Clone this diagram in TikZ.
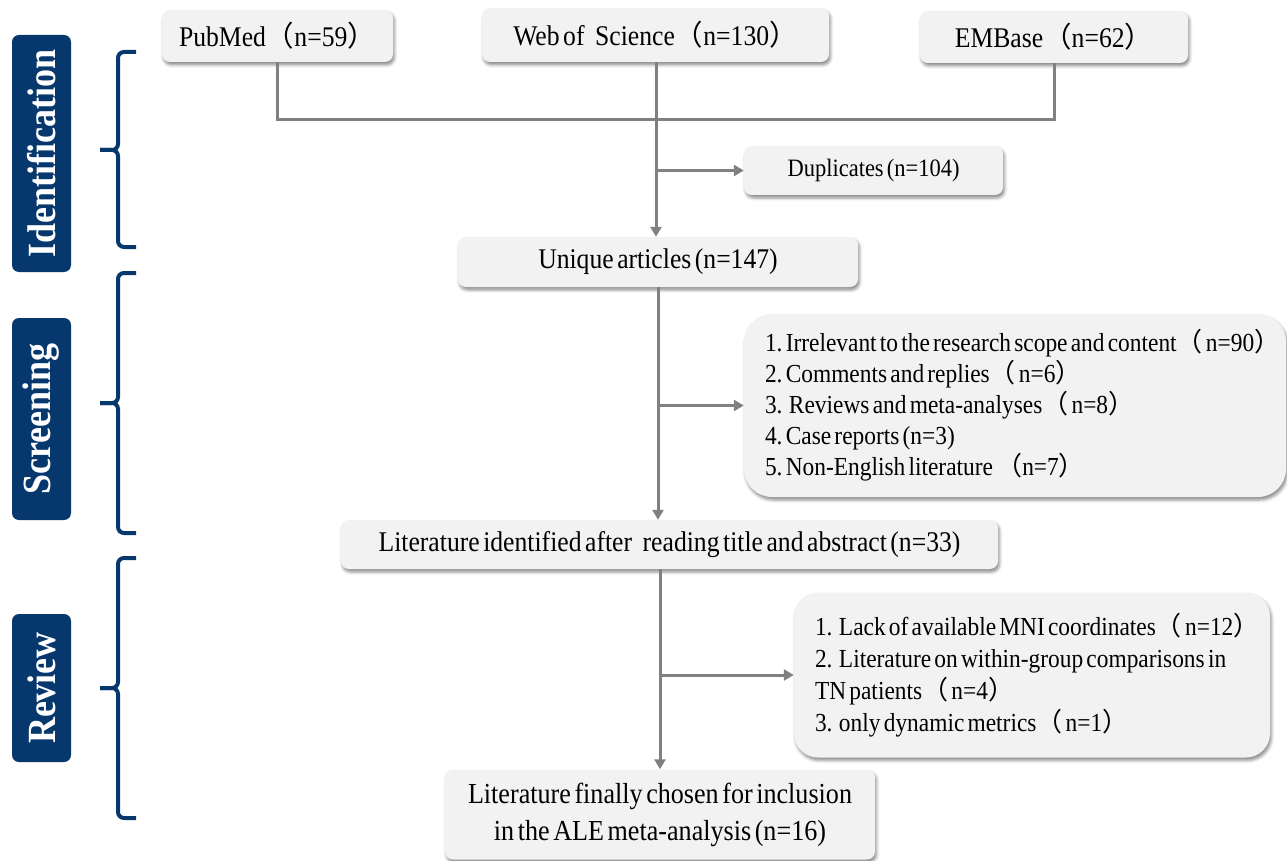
\documentclass[tikz,border=0pt]{standalone}
\usepackage{fontspec}
\setmainfont{Liberation Serif}[FakeStretch=0.9,WordSpace=0.55]
\newfontfamily\cjk{Noto Sans CJK SC}
\usetikzlibrary{arrows.meta,shadows.blur,calc}
\definecolor{navy}{RGB}{6,56,110}
\definecolor{boxfill}{RGB}{242,242,242}
\definecolor{conn}{RGB}{128,128,128}
\newcommand\LP{{\cjk （}}
\newcommand\RP{{\cjk ）}}
\newcommand\bigsz{\fontsize{28.5}{37}\selectfont\frenchspacing}
\newcommand\finsz{\fontsize{29}{37}\selectfont\frenchspacing}
\newcommand\dupsz{\fontsize{25}{30}\selectfont\frenchspacing}
\newcommand\listsz{\fontsize{26}{31}\selectfont\frenchspacing}
\newcommand\revsz{\fontsize{26}{32}\selectfont\frenchspacing}
\newcommand\labsz{\fontsize{40}{44}\selectfont}
\begin{document}
\begin{tikzpicture}[x=1pt,y=-1pt,
  box/.style={fill=boxfill, rounded corners=8pt, inner sep=0pt,
    blur shadow={shadow xshift=1.5pt,shadow yshift=-3pt,shadow blur radius=3pt,shadow opacity=45},
    font=\bigsz},
  listbox/.style={box, rounded corners=28pt, font=\listsz, align=flush left, inner xsep=21pt, inner ysep=0pt},
  stage/.style={fill=navy, rounded corners=7pt, rotate=90, text=white, font=\labsz\bfseries, inner sep=0pt},
  brace/.style={draw=navy, line width=4pt, rounded corners=6pt},
  line/.style={draw=conn, line width=3pt},
  arrow/.style={line, -{Triangle[width=11pt,length=10pt]}}
]
\useasboundingbox (0,0) rectangle (1287,861);

% stage labels
\node[stage, minimum width=237, minimum height=59] (idl) at (41.5,153.5) {Identification};
\node[stage, minimum width=202, minimum height=59] (scl) at (41.5,419) {Screening};
\node[stage, minimum width=148, minimum height=59] (rvl) at (41.5,688) {Review};

% braces
\draw[brace] (136,52) -- (118,52) -- (118,150) -- (100,150);
\draw[brace] (100,150) -- (118,150) -- (118,247) -- (136,247);
\draw[brace] (136,273) -- (118,273) -- (118,403) -- (100,403);
\draw[brace] (100,403) -- (118,403) -- (118,533) -- (136,533);
\draw[brace] (136,558) -- (118,558) -- (118,688) -- (100,688);
\draw[brace] (100,688) -- (118,688) -- (118,818) -- (136,818);

% boxes
\node[box, minimum width=231, minimum height=52] (pub) at (277.5,36) {PubMed\LP n=59\RP};
\node[box, minimum width=347, minimum height=54] (wos) at (655.5,35) {Web of\ \ \ Science\LP n=130\RP};
\node[box, minimum width=268, minimum height=52] (emb) at (1054,37) {EMBase\LP n=62\RP};
\node[box, minimum width=259, minimum height=49, font=\dupsz] (dup) at (873.5,170.5) {Duplicates (n=104)};
\node[box, minimum width=400, minimum height=50] (uni) at (658,262) {Unique articles (n=147)};
\node[listbox, text width=500, minimum height=183] (scr) at (1015,405.5) {%
\mbox{1. Irrelevant to the research scope and content\LP\ n=90\RP}\\
2. Comments and replies\LP\ n=6\RP\\
3.\ \ Reviews and meta-analyses\LP\ n=8\RP\\
4. Case reports\ (n=3)\\
5. Non-English literature\ \LP n=7\RP};
\node[box, minimum width=657, minimum height=49] (lit) at (669.5,544.5) {Literature identified after\ \ \ reading title and abstract (n=33)};
\node[listbox, rounded corners=24pt, font=\revsz, text width=434, minimum height=165] (rev) at (1032,675) {%
\mbox{1.\ \ Lack of available MNI coordinates\LP\ n=12\RP}\\
\mbox{2.\ \ Literature on within-group comparisons in}\\
TN patients\LP\ n=4\RP\\
3.\ \ only dynamic metrics\LP\ n=1\RP};
\node[box, minimum width=430, minimum height=90, align=center, font=\finsz] (fin) at (660,814.5) {Literature finally chosen for inclusion\\in the ALE meta-analysis (n=16)};

% connectors
\coordinate (j) at (656,120);
\draw[line] (pub.south) |- (j);
\draw[line] (emb.south) |- (j);
\draw[arrow] (wos.south -| j) -- (uni.north -| j);
\draw[arrow] (dup.west -| j) -- (dup.west);
\draw[arrow] (uni.south) -- (uni.south |- lit.north);
\draw[arrow] (scr.west -| uni.south) -- (scr.west);
\draw[arrow] (fin.north |- lit.south) -- (fin.north);
\draw[arrow] (rev.west -| fin.north) -- (rev.west);
\end{tikzpicture}
\end{document}
